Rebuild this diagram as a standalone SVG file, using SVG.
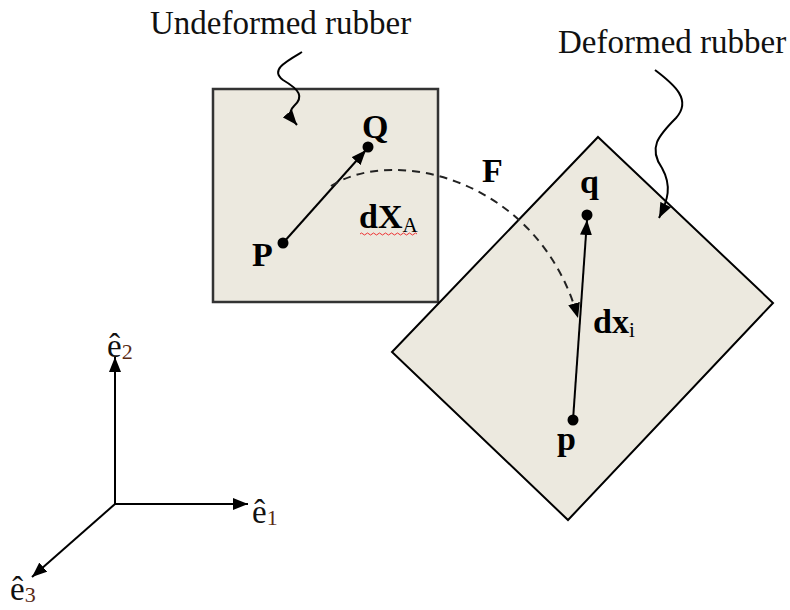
<svg xmlns="http://www.w3.org/2000/svg" width="790" height="610" viewBox="0 0 790 610">
<style>
.lbl{font-family:"Liberation Serif","Times New Roman",serif;font-size:33px;fill:#111}
.b{font-family:"Liberation Serif","Times New Roman",serif;font-size:34px;font-weight:bold;fill:#000}
.sub{font-size:21px;font-weight:normal}
.ax{font-family:"Liberation Serif","Times New Roman",serif;font-size:33px;fill:#111}
.axs{font-size:22px;fill:#5a2a14}
.line{stroke:#000;stroke-width:2;fill:none}
.dash{stroke:#222;stroke-width:2;fill:none;stroke-dasharray:8,6}
</style>
<defs>
<marker id="ahL" viewBox="0 0 15 12" refX="15" refY="6" markerWidth="15" markerHeight="12" orient="auto" markerUnits="userSpaceOnUse">
<path d="M0,0 L15,6 L0,12 z" fill="#000"/>
</marker>
</defs>
<rect width="790" height="610" fill="#fff"/>

<g id="undeformed">
<rect x="213" y="89" width="225" height="213" fill="#ECE9DF" stroke="#333" stroke-width="2.5"/>
</g>
<g id="deformed">
<polygon points="598,137 773,303 568,520 392,352" fill="#ECE9DF" stroke="#000" stroke-width="2"/>
</g>

<g id="labels">
<text class="lbl" x="150" y="34">Undeformed rubber</text>
<text class="lbl" x="558" y="53">Deformed rubber</text>
</g>

<g id="points">
<circle cx="368" cy="147" r="5.5" fill="#000"/>
<circle cx="283" cy="243" r="5.5" fill="#000"/>
<circle cx="587" cy="215" r="5.5" fill="#000"/>
<circle cx="573" cy="420" r="5.5" fill="#000"/>
<text class="b" x="362" y="138">Q</text>
<text class="b" x="252" y="266">P</text>
<text class="b" x="580" y="193">q</text>
<text class="b" x="557" y="450">p</text>
<text class="b" x="482" y="182">F</text>
<text class="b" x="359" y="228">dX<tspan class="sub" dy="4">A</tspan></text>
<path d="M360,234 q1.5,-2 3,0 t3,0 t3,0 t3,0 t3,0 t3,0 t3,0 t3,0 t3,0 t3,0 t3,0 t3,0 t3,0 t3,0 t3,0 t3,0 t3,0 t3,0 t3,0" fill="none" stroke="#e33" stroke-width="1"/>
<text class="b" x="593" y="333">dx<tspan class="sub" dy="4">i</tspan></text>
</g>

<g id="connectors">
<line class="line" x1="283" y1="243" x2="366" y2="150" marker-end="url(#ahL)"/>
<line class="line" x1="573" y1="420" x2="587" y2="220" marker-end="url(#ahL)"/>
<path class="dash" d="M331,186 C395,145 540,180 578,318" marker-end="url(#ahL)"/>
<path class="line" d="M302,52 C285,62 270,70 283,80 C300,90 304,97 294,106 C287,113 292,119 297,125" marker-end="url(#ahL)"/>
<path class="line" d="M655,70 C675,85 692,100 676,118 C658,136 648,148 662,168 C672,186 668,200 659,218" marker-end="url(#ahL)"/>
<line class="line" x1="115" y1="504" x2="115" y2="357" marker-end="url(#ahL)"/>
<line class="line" x1="115" y1="504" x2="248" y2="504" marker-end="url(#ahL)"/>
<line class="line" x1="115" y1="504" x2="32" y2="577" marker-end="url(#ahL)"/>
</g>

<g id="axes-labels">
<text class="ax" x="107" y="357">ê<tspan class="axs" dy="2">2</tspan></text>
<text class="ax" x="252" y="523">ê<tspan class="axs" dy="2">1</tspan></text>
<text class="ax" x="10" y="600">ê<tspan class="axs" dy="2">3</tspan></text>
</g>
</svg>
